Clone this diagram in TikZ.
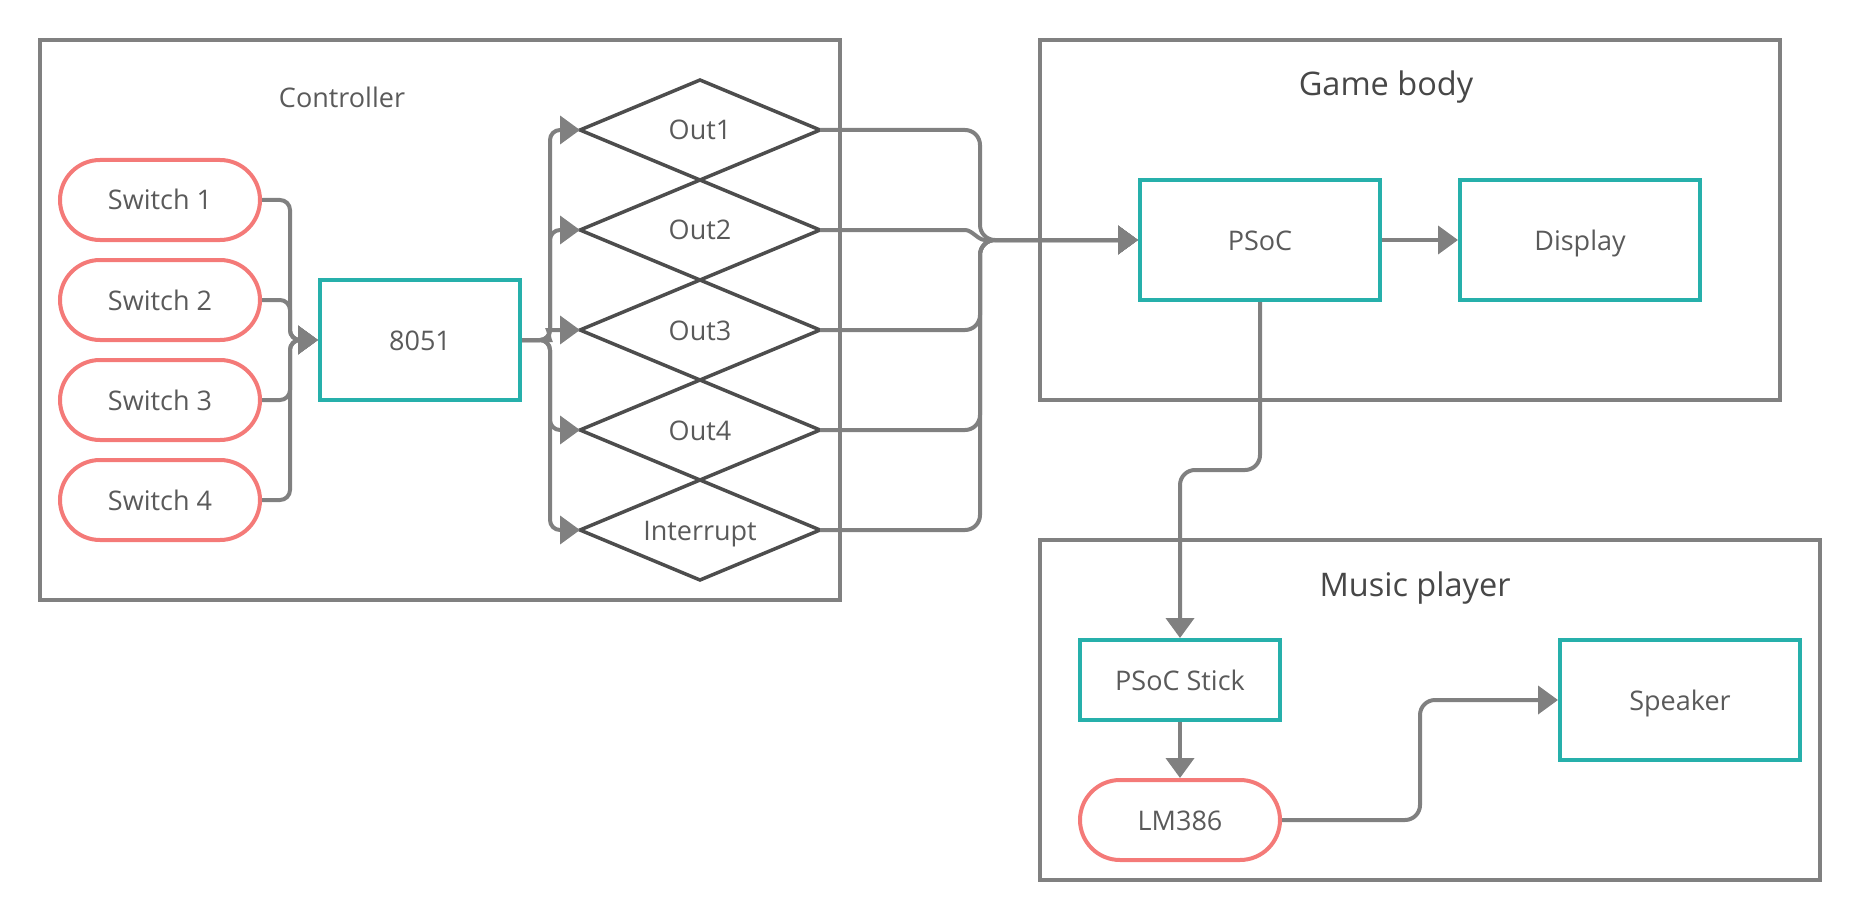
\documentclass[tikz,border=0pt]{standalone}
\usepackage{fontspec}
\setmainfont{Open Sans}
\usetikzlibrary{shapes.geometric,arrows.meta}
\definecolor{lgray}{HTML}{808080}
\definecolor{tealc}{HTML}{26B0AB}
\definecolor{salmonc}{HTML}{F47A78}
\definecolor{dgray}{HTML}{4D4D4D}
\definecolor{txtc}{HTML}{5A5A5A}
\definecolor{ttlc}{HTML}{474747}
\tikzset{
  lbl/.style={font=\fontsize{27}{32}\selectfont, text=txtc, text height=20pt, text depth=0pt},
  ttl/.style={font=\fontsize{32.5}{38}\selectfont, text=ttlc, text height=24pt, text depth=0pt},
  grp/.style={draw=lgray, line width=4pt, minimum width=#1},
  tbox/.style={lbl, draw=tealc, line width=4pt, inner sep=0pt},
  pill/.style={lbl, draw=salmonc, line width=4pt, rounded corners=40pt, minimum width=200pt, minimum height=80pt, inner sep=0pt},
  dmd/.style={lbl, diamond, draw=dgray, line width=3.5pt, minimum width=240pt, minimum height=100pt, inner sep=0pt, outer sep=0pt},
  conn/.style={draw=lgray, line width=4pt, rounded corners=#1},
  conn/.default=10pt,
  tip/.style={-{Triangle[length=20pt,width=28pt]}}
}
\begin{document}
\begin{tikzpicture}[x=1pt,y=-1pt]
\useasboundingbox (0,0) rectangle (1860,920);
% group frames
\node[grp=800pt, minimum height=560pt] (ctrl) at (440,320) {};
\node[grp=740pt, minimum height=360pt] (game) at (1410,220) {};
\node[grp=780pt, minimum height=340pt] (music) at (1430,710) {};
\node[lbl] (ctrlT) at (342,98) {Controller};
\node[ttl] (gameT) at (1386,84) {Game body};
\node[ttl] (musicT) at (1415,584) {Music player};
% controller
\node[pill] (s1) at (160,200) {Switch 1};
\node[pill] (s2) at (160,300) {Switch 2};
\node[pill] (s3) at (160,400) {Switch 3};
\node[pill] (s4) at (160,500) {Switch 4};
\node[tbox, minimum width=200pt, minimum height=120pt] (mcu) at (420,340) {8051};
\node[dmd] (o1) at (700,130) {\makebox[0pt]{Out1}};
\node[dmd] (o2) at (700,230) {\makebox[0pt]{Out2}};
\node[dmd] (o3) at (700,330) {\makebox[0pt]{Out3}};
\node[dmd] (o4) at (700,430) {\makebox[0pt]{Out4}};
\node[dmd] (o5) at (700,530) {\makebox[0pt]{Interrupt}};
% game body
\node[tbox, minimum width=240pt, minimum height=120pt] (psoc) at (1260,240) {PSoC};
\node[tbox, minimum width=240pt, minimum height=120pt] (disp) at (1580,240) {Display};
% music player
\node[tbox, minimum width=200pt, minimum height=80pt] (stick) at (1180,680) {PSoC Stick};
\node[pill] (amp) at (1180,820) {LM386};
\node[tbox, minimum width=240pt, minimum height=120pt] (spk) at (1680,700) {Speaker};
% coordinates
\coordinate (sb) at (290,340);
\coordinate (ob) at (550,340);
\coordinate (pb) at (980,240);
% switches -> 8051
\draw[conn, tip] (s1.east) -| (sb) -- (mcu.west);
\draw[conn, tip] (s2.east) -| (sb) -- (mcu.west);
\draw[conn, tip] (s3.east) -| (sb) -- (mcu.west);
\draw[conn, tip] (s4.east) -| (sb) -- (mcu.west);
% 8051 -> outs
\draw[conn, tip] (mcu.east) -- (ob) |- (o1.west);
\draw[conn, tip] (mcu.east) -- (ob) |- (o2.west);
\draw[conn, tip] (mcu.east) -- (540,340) .. controls (549,340) and (549,330) .. (558,330) -- (o3.west);
\draw[conn, tip] (mcu.east) -- (ob) |- (o4.west);
\draw[conn, tip] (mcu.east) -- (ob) |- (o5.west);
% outs -> PSoC
\draw[conn=15pt, tip] (o1.east) -| (pb) -- (psoc.west);
\draw[conn, tip] (o2.east) -- (955,230) .. controls (972,230) and (978,240) .. (995,240) -- (psoc.west);
\draw[conn=15pt, tip] (o3.east) -| (pb) -- (psoc.west);
\draw[conn=15pt, tip] (o4.east) -| (pb) -- (psoc.west);
\draw[conn=15pt, tip] (o5.east) -| (pb) -- (psoc.west);
% game body
\draw[conn, tip] (psoc.east) -- (disp.west);
\draw[conn=15pt, tip] (psoc.south) -- (1260,470) -- (1180,470) -- (stick.north);
% music
\draw[conn, tip] (stick.south) -- (amp.north);
\draw[conn=15pt, tip] (amp.east) -- (1420,820) -- (1420,700) -- (spk.west);
\end{tikzpicture}
\end{document}
